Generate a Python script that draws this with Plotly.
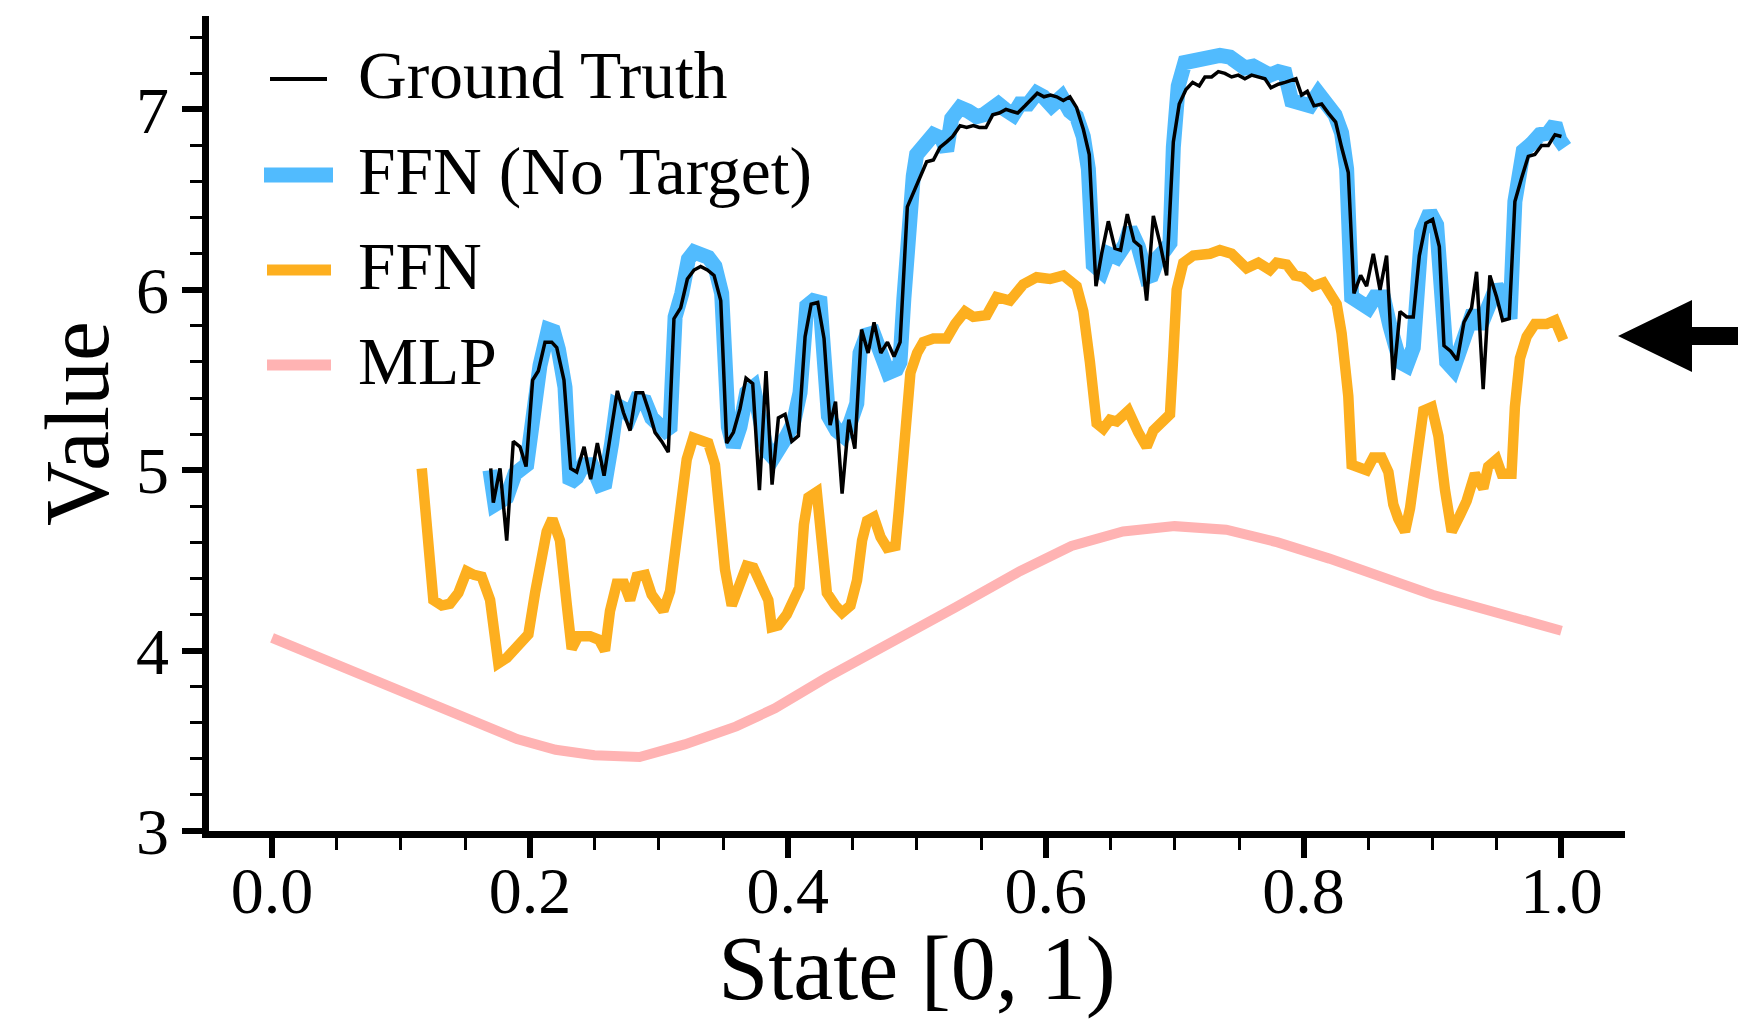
import plotly.graph_objects as go

# ---------------- data ----------------
gt_x = [0.1696, 0.1716, 0.1768, 0.1820, 0.1871, 0.1923, 0.1970, 0.2021, 0.2065, 0.2117,
        0.2169, 0.2208, 0.2264, 0.2316, 0.2363, 0.2420, 0.2471, 0.2523, 0.2575, 0.2627,
        0.2678, 0.2725, 0.2777, 0.2823, 0.2875, 0.2926, 0.2970, 0.3022, 0.3073, 0.3117,
        0.3169, 0.3221, 0.3273, 0.3324, 0.3376, 0.3428, 0.3480, 0.3526, 0.3578, 0.3629,
        0.3676, 0.3728, 0.3780, 0.3831, 0.3878, 0.3927, 0.3979, 0.4031, 0.4082, 0.4134,
        0.4181, 0.4232, 0.4281, 0.4328, 0.4370, 0.4421, 0.4473, 0.4520, 0.4572, 0.4623,
        0.4669, 0.4721, 0.4773, 0.4824, 0.4871, 0.4927, 0.4973, 0.5025, 0.5077, 0.5129,
        0.5180, 0.5232, 0.5278, 0.5336, 0.5387, 0.5439, 0.5485, 0.5537, 0.5589, 0.5640,
        0.5692, 0.5736, 0.5783, 0.5840, 0.5883, 0.5935, 0.5987, 0.6038, 0.6085, 0.6137,
        0.6188, 0.6240, 0.6292, 0.6338, 0.6390, 0.6434, 0.6486, 0.6537, 0.6581, 0.6633,
        0.6685, 0.6736, 0.6783, 0.6835, 0.6886, 0.6938, 0.6990, 0.7036, 0.7088, 0.7140,
        0.7191, 0.7235, 0.7287, 0.7339, 0.7390, 0.7442, 0.7494, 0.7545, 0.7597, 0.7649,
        0.7701, 0.7747, 0.7804, 0.7856, 0.7900, 0.7941, 0.7985, 0.8029, 0.8081, 0.8140,
        0.8192, 0.8249, 0.8295, 0.8347, 0.8391, 0.8443, 0.8489, 0.8541, 0.8593, 0.8644,
        0.8696, 0.8748, 0.8799, 0.8851, 0.8898, 0.8949, 0.9001, 0.9053, 0.9089, 0.9141,
        0.9192, 0.9244, 0.9303, 0.9342, 0.9393, 0.9445, 0.9497, 0.9544, 0.9595, 0.9639,
        0.9691, 0.9743, 0.9794, 0.9846, 0.9898, 0.9950, 1.0000]
gt_y = [5.01, 4.82, 5.01, 4.61, 5.16, 5.13, 5.02, 5.50, 5.55, 5.71,
        5.71, 5.68, 5.50, 5.01, 4.99, 5.13, 4.95, 5.15, 4.97, 5.22,
        5.44, 5.32, 5.22, 5.43, 5.43, 5.32, 5.21, 5.16, 5.10, 5.84,
        5.90, 6.06, 6.11, 6.13, 6.11, 6.08, 5.94, 5.15, 5.21, 5.34,
        5.51, 5.48, 4.89, 5.55, 4.92, 5.29, 5.31, 5.16, 5.19, 5.74,
        5.92, 5.93, 5.73, 5.25, 5.38, 4.87, 5.28, 5.12, 5.78, 5.65,
        5.82, 5.65, 5.71, 5.63, 5.71, 6.46, 6.54, 6.62, 6.71, 6.72,
        6.79, 6.82, 6.85, 6.91, 6.90, 6.91, 6.90, 6.90, 6.97, 6.98,
        7.00, 6.99, 6.98, 7.02, 7.05, 7.09, 7.07, 7.08, 7.07, 7.05,
        7.07, 7.01, 6.89, 6.75, 6.02, 6.20, 6.38, 6.23, 6.22, 6.42,
        6.27, 6.24, 5.94, 6.41, 6.26, 6.08, 6.82, 7.03, 7.11, 7.15,
        7.13, 7.18, 7.18, 7.21, 7.20, 7.18, 7.19, 7.17, 7.19, 7.18,
        7.17, 7.12, 7.14, 7.15, 7.16, 7.17, 7.08, 7.10, 7.02, 7.03,
        6.98, 6.93, 6.79, 6.65, 5.98, 6.08, 6.02, 6.20, 6.00, 6.19,
        5.50, 5.88, 5.85, 5.85, 6.19, 6.37, 6.39, 6.24, 5.69, 5.66,
        5.61, 5.82, 5.90, 6.10, 5.45, 6.08, 5.96, 5.83, 5.84, 6.49,
        6.62, 6.74, 6.75, 6.80, 6.80, 6.86, 6.85]

ffn_nt_x = [0.1690, 0.1729, 0.1820, 0.1884, 0.1975, 0.2027, 0.2078, 0.2143, 0.2182, 0.2221,
            0.2272, 0.2311, 0.2363, 0.2414, 0.2479, 0.2544, 0.2582, 0.2634, 0.2673, 0.2725,
            0.2777, 0.2828, 0.2893, 0.2944, 0.2996, 0.3048, 0.3087, 0.3126, 0.3178, 0.3229,
            0.3273, 0.3332, 0.3383, 0.3435, 0.3487, 0.3539, 0.3578, 0.3629, 0.3681, 0.3733,
            0.3784, 0.3836, 0.3888, 0.3939, 0.3992, 0.4043, 0.4095, 0.4147, 0.4198, 0.4250,
            0.4289, 0.4315, 0.4379, 0.4431, 0.4483, 0.4535, 0.4560, 0.4612, 0.4663, 0.4727,
            0.4778, 0.4843, 0.4870, 0.4900, 0.4935, 0.4973, 0.4999, 0.5077, 0.5129, 0.5193,
            0.5232, 0.5271, 0.5336, 0.5400, 0.5465, 0.5517, 0.5568, 0.5633, 0.5685, 0.5749,
            0.5801, 0.5865, 0.5930, 0.5982, 0.6046, 0.6124, 0.6188, 0.6240, 0.6292, 0.6331,
            0.6369, 0.6434, 0.6486, 0.6550, 0.6615, 0.6654, 0.6718, 0.6783, 0.6822, 0.6873,
            0.6925, 0.6964, 0.6990, 0.7028, 0.7080, 0.7145, 0.7222, 0.7287, 0.7351, 0.7429,
            0.7494, 0.7545, 0.7610, 0.7675, 0.7739, 0.7804, 0.7856, 0.7907, 0.7972, 0.8050,
            0.8114, 0.8179, 0.8244, 0.8295, 0.8334, 0.8373, 0.8451, 0.8502, 0.8554, 0.8619,
            0.8670, 0.8748, 0.8799, 0.8851, 0.8916, 0.8980, 0.9032, 0.9071, 0.9110, 0.9161,
            0.9213, 0.9265, 0.9316, 0.9368, 0.9407, 0.9445, 0.9497, 0.9549, 0.9601, 0.9639,
            0.9665, 0.9704, 0.9769, 0.9833, 0.9898, 0.9950, 0.9988, 1.0027]
ffn_nt_y = [5.00, 4.81, 4.85, 4.98, 5.03, 5.35, 5.58, 5.78, 5.77, 5.67,
            5.46, 4.93, 4.96, 5.03, 5.03, 4.92, 4.93, 5.15, 5.36, 5.34,
            5.30, 5.39, 5.38, 5.29, 5.24, 5.22, 5.24, 5.85, 5.98, 6.17,
            6.21, 6.19, 6.18, 6.13, 5.98, 5.24, 5.13, 5.24, 5.43, 5.46,
            5.32, 5.11, 5.07, 5.15, 5.19, 5.26, 5.43, 5.91, 5.94, 5.93,
            5.65, 5.30, 5.22, 5.19, 5.26, 5.37, 5.65, 5.75, 5.76, 5.61,
            5.54, 5.56, 5.60, 5.95, 6.45, 6.63, 6.75, 6.81, 6.86, 6.84,
            6.77, 6.95, 7.01, 6.99, 6.96, 6.97, 7.00, 7.03, 7.00, 6.97,
            7.03, 7.03, 7.09, 7.07, 7.02, 7.07, 6.99, 6.96, 6.85, 6.67,
            6.14, 6.10, 6.20, 6.18, 6.25, 6.34, 6.24, 6.07, 6.08, 6.18,
            6.22, 6.26, 6.79, 7.13, 7.26, 7.27, 7.27, 7.28, 7.30, 7.29,
            7.26, 7.23, 7.24, 7.22, 7.19, 7.21, 7.20, 7.05, 7.04, 7.02,
            7.09, 7.03, 6.97, 6.87, 6.67, 5.96, 5.91, 5.90, 5.96, 5.96,
            5.80, 5.60, 5.58, 5.68, 6.32, 6.43, 6.36, 6.00, 5.60, 5.56,
            5.67, 5.80, 5.88, 5.79, 5.88, 5.96, 6.02, 5.96, 5.84, 6.49,
            6.63, 6.77, 6.81, 6.86, 6.87, 6.92, 6.83, 6.79]

ffn_x = [0.1161, 0.1251, 0.1316, 0.1380, 0.1445, 0.1510, 0.1566, 0.1626, 0.1691, 0.1755,
         0.1820, 0.1884, 0.1923, 0.1988, 0.2040, 0.2091, 0.2130, 0.2174, 0.2233, 0.2285,
         0.2324, 0.2375, 0.2466, 0.2536, 0.2582, 0.2621, 0.2673, 0.2730, 0.2777, 0.2828,
         0.2893, 0.2944, 0.2996, 0.3035, 0.3087, 0.3126, 0.3164, 0.3216, 0.3267, 0.3332,
         0.3383, 0.3435, 0.3474, 0.3513, 0.3565, 0.3629, 0.3681, 0.3733, 0.3798, 0.3849,
         0.3875, 0.3927, 0.3992, 0.4056, 0.4090, 0.4125, 0.4160, 0.4225, 0.4264, 0.4303,
         0.4368, 0.4421, 0.4486, 0.4537, 0.4576, 0.4615, 0.4667, 0.4719, 0.4770, 0.4835,
         0.4861, 0.4900, 0.4951, 0.5003, 0.5051, 0.5129, 0.5232, 0.5297, 0.5374, 0.5439,
         0.5542, 0.5620, 0.5723, 0.5826, 0.5930, 0.6033, 0.6137, 0.6240, 0.6292, 0.6343,
         0.6395, 0.6447, 0.6499, 0.6550, 0.6641, 0.6718, 0.6783, 0.6835, 0.6899, 0.6964,
         0.6990, 0.7016, 0.7067, 0.7145, 0.7274, 0.7351, 0.7442, 0.7507, 0.7558, 0.7649,
         0.7739, 0.7791, 0.7869, 0.7933, 0.7998, 0.8075, 0.8153, 0.8205, 0.8257, 0.8295,
         0.8347, 0.8373, 0.8438, 0.8489, 0.8541, 0.8606, 0.8658, 0.8696, 0.8735, 0.8787,
         0.8826, 0.8878, 0.8929, 0.8994, 0.9046, 0.9097, 0.9149, 0.9213, 0.9265, 0.9329,
         0.9394, 0.9432, 0.9497, 0.9536, 0.9613, 0.9639, 0.9678, 0.9730, 0.9794, 0.9885,
         0.9950, 1.0014]
ffn_y = [5.01, 4.28, 4.25, 4.26, 4.32, 4.44, 4.42, 4.41, 4.28, 3.93,
         3.96, 4.01, 4.06, 4.09, 4.32, 4.54, 4.66, 4.73, 4.61, 4.26,
         4.01, 4.08, 4.08, 4.06, 4.00, 4.22, 4.37, 4.37, 4.28, 4.41,
         4.42, 4.31, 4.27, 4.22, 4.33, 4.54, 4.76, 5.06, 5.18, 5.16,
         5.15, 5.03, 4.76, 4.45, 4.25, 4.37, 4.47, 4.46, 4.36, 4.28,
         4.13, 4.14, 4.20, 4.28, 4.35, 4.70, 4.85, 4.88, 4.65, 4.32,
         4.25, 4.21, 4.25, 4.39, 4.61, 4.72, 4.74, 4.63, 4.57, 4.58,
         4.78, 5.19, 5.54, 5.65, 5.71, 5.73, 5.73, 5.81, 5.88, 5.85,
         5.86, 5.96, 5.94, 6.03, 6.07, 6.06, 6.08, 6.02, 5.88, 5.60,
         5.26, 5.23, 5.28, 5.27, 5.33, 5.21, 5.13, 5.22, 5.26, 5.31,
         5.64, 6.00, 6.15, 6.19, 6.20, 6.22, 6.20, 6.15, 6.12, 6.15,
         6.11, 6.15, 6.14, 6.08, 6.07, 6.02, 6.04, 5.98, 5.92, 5.76,
         5.41, 5.03, 5.02, 5.00, 5.07, 5.07, 4.99, 4.81, 4.73, 4.66,
         4.79, 5.11, 5.33, 5.35, 5.19, 4.89, 4.66, 4.75, 4.83, 4.98,
         4.90, 5.02, 5.06, 4.98, 4.98, 5.35, 5.62, 5.74, 5.81, 5.81,
         5.83, 5.72]

mlp_x = [0.00, 0.05, 0.10, 0.15, 0.19, 0.22, 0.25, 0.285, 0.32, 0.36, 0.39, 0.43,
         0.48, 0.53, 0.58, 0.62, 0.66, 0.70, 0.74, 0.78, 0.82, 0.86, 0.90, 0.95, 1.00]
mlp_y = [4.07, 3.92, 3.78, 3.63, 3.51, 3.45, 3.42, 3.41, 3.48, 3.58, 3.68, 3.85,
         4.04, 4.24, 4.44, 4.58, 4.66, 4.69, 4.67, 4.60, 4.51, 4.41, 4.31, 4.21, 4.11]

series_names = ["Ground Truth", "FFN (No Target)", "FFN", "MLP"]
x_ticks = [0.0, 0.2, 0.4, 0.6, 0.8, 1.0]
x_tick_labels = ["0.0", "0.2", "0.4", "0.6", "0.8", "1.0"]
y_ticks = [3, 4, 5, 6, 7]
y_tick_labels = ["3", "4", "5", "6", "7"]

# ---------------- styling ----------------
FONT = "Liberation Serif, Times New Roman, serif"
C_GT = "#000000"
C_NT = "#51BBFE"
C_FFN = "#FDAF1F"
C_MLP = "#FFB3B3"
W, H = 1738, 1019
PL, PR, PT, PB = 209, 1625, 16, 831  # plot area in pixels


def paper(px, py):
    return (px - PL) / (PR - PL), (PB - py) / (PB - PT)


fig = go.Figure()
fig.add_trace(go.Scatter(x=mlp_x, y=mlp_y, mode="lines", name=series_names[3],
                         line=dict(color=C_MLP, width=10)))
fig.add_trace(go.Scatter(x=ffn_x, y=ffn_y, mode="lines", name=series_names[2],
                         line=dict(color=C_FFN, width=10.5)))
fig.add_trace(go.Scatter(x=ffn_nt_x, y=ffn_nt_y, mode="lines", name=series_names[1],
                         line=dict(color=C_NT, width=15)))
fig.add_trace(go.Scatter(x=gt_x, y=gt_y, mode="lines", name=series_names[0],
                         line=dict(color=C_GT, width=3.5)))

# ---------------- custom legend ----------------
legend_rows = [  # (name, color, width, x0, x1, y center) in pixels
    (series_names[0], C_GT, 4, 270, 327, 79),
    (series_names[1], C_NT, 15, 264, 333, 175),
    (series_names[2], C_FFN, 11, 267, 331, 270),
    (series_names[3], C_MLP, 11, 267, 331, 365),
]
shapes = []
annotations = []
for name, col, lw, x0, x1, yc in legend_rows:
    a0, b0 = paper(x0, yc)
    a1, _ = paper(x1, yc)
    shapes.append(dict(type="line", xref="paper", yref="paper", x0=a0, x1=a1, y0=b0, y1=b0,
                       line=dict(color=col, width=lw)))
    tx, ty = paper(356, yc - 4)
    annotations.append(dict(text=name, xref="paper", yref="paper", x=tx, y=ty,
                            xanchor="left", yanchor="middle", showarrow=False,
                            font=dict(family=FONT, size=67.5, color="black")))

# ---------------- arrow on the right ----------------
tipx, tipy = paper(1618, 336)
hbx, _ = paper(1692, 336)
endx, _ = paper(1760, 336)
hh = 36 / (PB - PT)
sh = 9 / (PB - PT)
path = (f"M{tipx},{tipy} L{hbx},{tipy + hh} L{hbx},{tipy + sh} L{endx},{tipy + sh} "
        f"L{endx},{tipy - sh} L{hbx},{tipy - sh} L{hbx},{tipy - hh} Z")
shapes.append(dict(type="path", xref="paper", yref="paper", path=path,
                   fillcolor="black", line=dict(width=0), layer="above"))

axis_common = dict(
    showline=True, linecolor="black", linewidth=6.5, showgrid=False, zeroline=False,
    ticks="outside", ticklen=20, tickwidth=6, tickcolor="black",
    tickfont=dict(family=FONT, size=66, color="black"),
)

fig.update_layout(
    width=W, height=H,
    margin=dict(l=PL, r=W - PR, t=PT, b=H - PB, autoexpand=False),
    paper_bgcolor="white", plot_bgcolor="white",
    showlegend=False,
    shapes=shapes, annotations=annotations,
    font=dict(family=FONT, color="black"),
    xaxis=dict(
        range=[-0.0489, 1.0493], tickvals=x_ticks, ticktext=x_tick_labels,
        ticklabelstandoff=-24,
        minor=dict(dtick=0.05, tick0=0, ticks="outside", ticklen=12, tickwidth=3,
                   tickcolor="black"),
        title=dict(text="State [0, 1)", font=dict(family=FONT, size=90, color="black"),
                   standoff=35),
        automargin=False, **axis_common,
    ),
    yaxis=dict(
        range=[3, 7.518], tickvals=y_ticks, ticktext=y_tick_labels,
        minor=dict(dtick=0.2, tick0=3, ticks="outside", ticklen=12, tickwidth=3,
                   tickcolor="black"),
        title=dict(text="Value", font=dict(family=FONT, size=90, color="black"),
                   standoff=0),
        automargin=False, **axis_common,
    ),
)

fig.write_html("out.html", config={"displayModeBar": False},
               post_script="document.body.style.margin='0';document.body.style.overflow='hidden';")
